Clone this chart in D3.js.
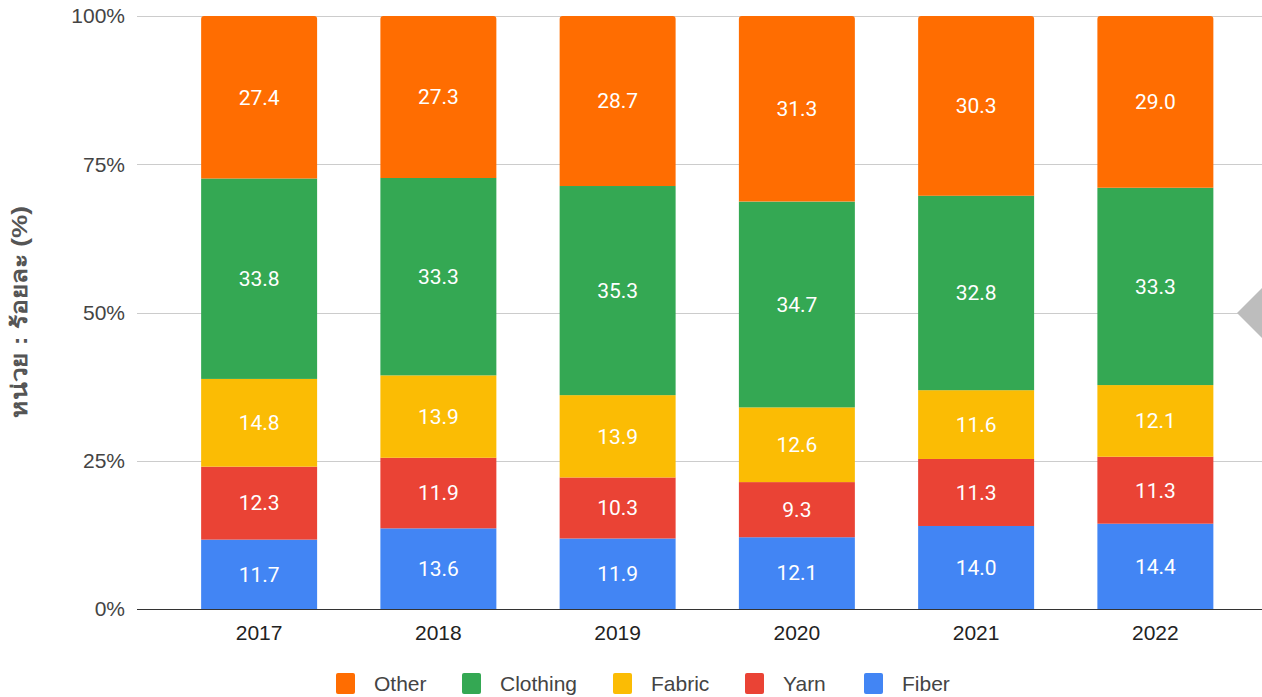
<!DOCTYPE html>
<html><head><meta charset="utf-8">
<script src="https://cdn.jsdelivr.net/npm/d3@7"></script>
<style>html,body{margin:0;padding:0;background:#fff;}svg{display:block;font-family:"Liberation Sans",Arial,sans-serif;}</style>
</head><body>
<svg id="chart" width="1262" height="697"></svg>
<script>
const years = ["2017","2018","2019","2020","2021","2022"];
const seriesNames = ["Fiber","Yarn","Fabric","Clothing","Other"];
const fiber    = [11.7,13.6,11.9,12.1,14.0,14.4];
const yarn     = [12.3,11.9,10.3,9.3,11.3,11.3];
const fabric   = [14.8,13.9,13.9,12.6,11.6,12.1];
const clothing = [33.8,33.3,35.3,34.7,32.8,33.3];
const other    = [27.4,27.3,28.7,31.3,30.3,29.0];
const yTicks = [0,0.25,0.5,0.75,1];
const colors = {Fiber:"#4285F4",Yarn:"#EA4335",Fabric:"#FBBC04",Clothing:"#34A853",Other:"#FF6D01"};
const legendOrder = ["Other","Clothing","Fabric","Yarn","Fiber"];
const yTitle = "หน่วย : ร้อยละ (%)";

const valuesBy = {Fiber:fiber,Yarn:yarn,Fabric:fabric,Clothing:clothing,Other:other};
const rows = years.map((yr,i)=>{const r={year:yr};seriesNames.forEach(s=>r[s]=valuesBy[s][i]);return r;});

const svg = d3.select("#chart");
const plotLeft=137, plotRight=1262, plotTop=16, plotBottom=609;
const x = d3.scaleBand().domain(years).range([169.5,1245]).paddingInner(0.353).paddingOuter(0.1765);
const y = d3.scaleLinear().domain([0,1]).range([plotBottom,plotTop]);

const stack = d3.stack().keys(seriesNames).offset(d3.stackOffsetExpand);
const stacked = stack(rows);

// gridlines
svg.append("g").selectAll("line").data(yTicks).join("line")
  .attr("x1",plotLeft).attr("x2",plotRight)
  .attr("y1",d=>Math.round(y(d))+0.5).attr("y2",d=>Math.round(y(d))+0.5)
  .attr("stroke",d=>d===0?"#333":"#cccccc").attr("stroke-width",1);

svg.append("g").selectAll("text").data(yTicks).join("text")
  .attr("x",125).attr("y",d=>y(d)).attr("dy","0.35em")
  .attr("text-anchor","end").attr("font-size",21).attr("fill","#444")
  .text(d=>d3.format(".0%")(d));

// bars
const g = svg.append("g");
stacked.forEach(layer=>{
  const key = layer.key;
  layer.forEach((d,i)=>{
    const x0 = x(d.data.year), w = x.bandwidth();
    const y0 = y(d[1]), y1 = y(d[0]);
    if(key==="Other"){
      const r=3;
      g.append("path")
        .attr("d",`M${x0},${y1}V${y0+r}Q${x0},${y0} ${x0+r},${y0}H${x0+w-r}Q${x0+w},${y0} ${x0+w},${y0+r}V${y1}Z`)
        .attr("fill",colors[key]);
    } else {
      g.append("rect").attr("x",x0).attr("y",y0).attr("width",w).attr("height",y1-y0).attr("fill",colors[key]);
    }
    g.append("text")
      .attr("x",x0+w/2).attr("y",(y0+y1)/2).attr("dy","0.35em")
      .attr("text-anchor","middle").attr("font-size",21).attr("fill","#fff")
      .attr("font-family","Roboto,sans-serif")
      .text(d3.format(".1f")(d.data[key]));
  });
});

// x labels
svg.append("g").selectAll("text").data(years).join("text")
  .attr("x",d=>x(d)+x.bandwidth()/2).attr("y",633).attr("dy","0.35em")
  .attr("text-anchor","middle").attr("font-size",21).attr("fill","#222")
  .text(d=>d);

// y title
svg.append("text").attr("transform","translate(19,312) rotate(-90)")
  .attr("text-anchor","middle").attr("dy","0.35em").attr("font-size",22).attr("font-weight","bold").attr("fill","#555")
  .attr("textLength",212).attr("lengthAdjust","spacingAndGlyphs")
  .text(yTitle);

// legend
const legX = [336,462,613,745,864];
const lg = svg.append("g");
legendOrder.forEach((k,i)=>{
  lg.append("rect").attr("x",legX[i]).attr("y",673).attr("width",19).attr("height",21).attr("rx",2).attr("fill",colors[k]);
  lg.append("text").attr("x",legX[i]+38).attr("y",684).attr("dy","0.35em")
    .attr("font-size",21).attr("fill","#444").text(k);
});

// scroll triangle decoration
svg.append("path").attr("d","M1237,313L1262,288L1262,338Z").attr("fill","#bdbdbd");
</script>
</body></html>
